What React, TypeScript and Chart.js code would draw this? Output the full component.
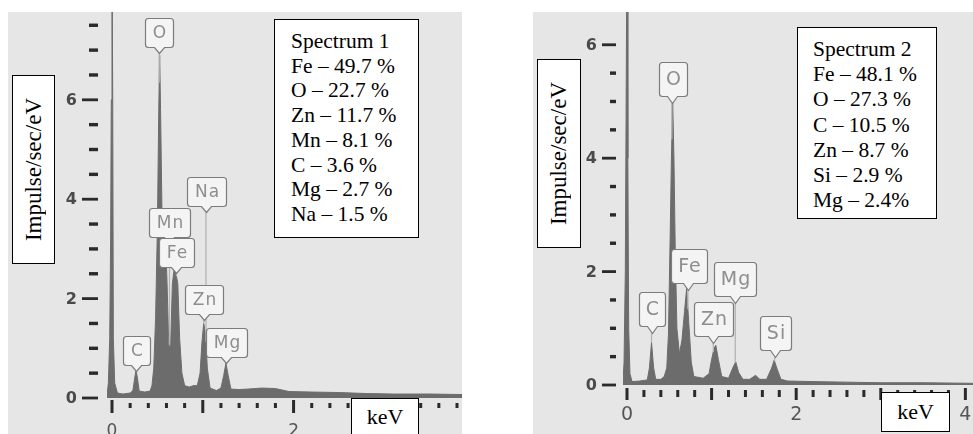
import { useEffect, useRef } from 'react';
import { Chart, registerables } from 'chart.js';

Chart.register(...registerables);

// ---------- Spectrum 1 (left) ----------
const s1Energy = [
  -0.055, -0.04, -0.025, -0.015, -0.008, 0.0, 0.008, 0.015, 0.03, 0.06, 0.12, 0.2, 0.23, 0.25, 0.265, 0.28,
  0.3, 0.36, 0.42, 0.44, 0.46, 0.48, 0.5, 0.515, 0.525, 0.535, 0.55, 0.57, 0.59, 0.605, 0.625, 0.645,
  0.665, 0.685, 0.705, 0.725, 0.745, 0.77, 0.8, 0.85, 0.9, 0.94, 0.97, 0.99, 1.01, 1.03, 1.05, 1.08,
  1.15, 1.2, 1.23, 1.255, 1.28, 1.31, 1.4, 1.5, 1.65, 1.8, 1.95, 2.2, 2.5, 2.8, 3.1, 3.5, 3.855,
];
const s1Counts = [
  0.05, 0.3, 1.2, 3.2, 6.0, 9.0, 6.0, 1.2, 0.3, 0.1, 0.08, 0.1, 0.15, 0.4, 0.56, 0.4,
  0.14, 0.12, 0.14, 0.25, 0.6, 1.6, 3.4, 5.8, 6.9, 5.8, 3.8, 3.4, 3.2, 2.4, 1.1, 1.0,
  2.3, 2.6, 2.5, 2.3, 1.2, 0.5, 0.25, 0.22, 0.25, 0.25, 0.5, 1.1, 1.5, 1.3, 0.6, 0.2,
  0.15, 0.2, 0.45, 0.7, 0.45, 0.18, 0.17, 0.18, 0.2, 0.19, 0.13, 0.12, 0.11, 0.09, 0.08, 0.08, 0.07,
];
const s1PeakElements = ['C', 'O', 'Mn', 'Fe', 'Na', 'Zn', 'Mg'];
const s1PeakEnergy = [0.264, 0.52, 0.633, 0.71, 1.035, 1.01, 1.255];
const s1PeakLabelLevel = [0.54, 6.94, 3.12, 2.52, 3.74, 1.57, 0.7];
const s1YTickLabels = [0, 2, 4, 6];
const s1XTickLabels = [0, 2];
const s1Title = 'Spectrum 1';
const s1Composition = ['Fe – 49.7 %', 'O – 22.7 %', 'Zn – 11.7 %', 'Mn – 8.1 %', 'C – 3.6 %', 'Mg – 2.7 %', 'Na – 1.5 %'];

// ---------- Spectrum 2 (right) ----------
const s2Energy = [
  -0.047, -0.035, -0.02, -0.01, 0.0, 0.01, 0.02, 0.035, 0.06, 0.15, 0.24, 0.265, 0.29, 0.315, 0.34, 0.4,
  0.44, 0.47, 0.49, 0.51, 0.525, 0.54, 0.555, 0.57, 0.59, 0.62, 0.65, 0.68, 0.705, 0.73, 0.76, 0.79,
  0.9, 0.97, 1.0, 1.03, 1.05, 1.08, 1.12, 1.2, 1.25, 1.285, 1.32, 1.37, 1.45, 1.52, 1.57, 1.65,
  1.71, 1.74, 1.77, 1.82, 1.9, 2.2, 2.6, 3.0, 3.5, 4.09,
];
const s2Counts = [
  0.05, 0.4, 2.0, 5.0, 8.0, 4.0, 1.0, 0.2, 0.06, 0.07, 0.09, 0.3, 0.75, 0.3, 0.1, 0.1,
  0.15, 0.3, 0.9, 2.6, 4.0, 5.0, 4.0, 2.4, 1.0, 0.55, 0.8, 1.3, 1.7, 1.1, 0.4, 0.15,
  0.12, 0.2, 0.45, 0.65, 0.7, 0.45, 0.15, 0.12, 0.3, 0.41, 0.22, 0.1, 0.1, 0.17, 0.1, 0.1,
  0.3, 0.44, 0.3, 0.1, 0.07, 0.06, 0.05, 0.04, 0.04, 0.03,
];
const s2PeakElements = ['C', 'O', 'Fe', 'Zn', 'Mg', 'Si'];
const s2PeakEnergy = [0.29, 0.53, 0.72, 1.02, 1.28, 1.745];
const s2PeakLabelLevel = [0.92, 4.97, 1.68, 0.74, 1.45, 0.49];
const s2YTickLabels = [0, 2, 4, 6];
const s2XTickLabels = [0, 2, 4];
const s2Title = 'Spectrum 2';
const s2Composition = ['Fe – 48.1 %', 'O – 27.3 %', 'C – 10.5 %', 'Zn – 8.7 %', 'Si – 2.9 %', 'Mg – 2.4%'];

const yAxisTitle = 'Impulse/sec/eV';
const xAxisTitle = 'keV';

type Decor = {
  energy: number[];
  counts: number[];
  elements: string[];
  peakEnergy: number[];
  peakLevel: number[];
  yLabels: number[];
  xLabels: number[];
  yStep: number;
  yTickMax: number;
  xStep: number;
  xTickMax: number;
  yMajor: [number, number];
  yMinor: [number, number];
  xMajor: [number, number];
  xMinor: [number, number];
  yLabelOffset: number;
  xLabelOffset: number;
  yFont: string;
  xFont: string;
  labelFont: string;
  boxH: number;
  notchH: number;
  pad: number;
};

function interp(xs: number[], ys: number[], v: number) {
  for (let i = 0; i < xs.length - 1; i++) {
    if (v >= xs[i] && v <= xs[i + 1]) {
      const t = (v - xs[i]) / (xs[i + 1] - xs[i]);
      return ys[i] + t * (ys[i + 1] - ys[i]);
    }
  }
  return 0;
}

const decorPlugin = {
  id: 'spectrumDecor',
  beforeDatasetsDraw(chart: any, _a: any, o: Decor) {
    const { ctx, chartArea, scales } = chart;
    const x = scales.x;
    const y = scales.y;
    ctx.save();
    ctx.fillStyle = '#2a2a2a';
    for (let k = 0; k * o.yStep <= o.yTickMax + 1e-9; k++) {
      const v = k * o.yStep;
      const major = o.yLabels.some((l) => Math.abs(l - v) < 1e-6);
      const [a, b] = major ? o.yMajor : o.yMinor;
      const py = y.getPixelForValue(v);
      const h = major ? 2.8 : 3.4;
      ctx.fillRect(chartArea.left + a, py - h / 2, b - a, h);
    }
    for (let k = 0; k * o.xStep <= o.xTickMax + 1e-9; k++) {
      const v = k * o.xStep;
      const major = Math.abs(v - Math.round(v)) < 1e-6;
      const [a, b] = major ? o.xMajor : o.xMinor;
      const px = x.getPixelForValue(v);
      ctx.fillRect(px - 1.5, chartArea.bottom + a, 3, b - a);
    }
    ctx.fillStyle = '#4a4a4a';
    ctx.font = o.yFont;
    ctx.textAlign = 'right';
    ctx.textBaseline = 'middle';
    o.yLabels.forEach((l) => {
      ctx.fillText(String(l), chartArea.left + o.yLabelOffset, y.getPixelForValue(l) + 1);
    });
    ctx.fillStyle = '#555';
    ctx.font = o.xFont;
    ctx.textAlign = 'center';
    o.xLabels.forEach((l) => {
      ctx.fillText(String(l), x.getPixelForValue(l), chartArea.bottom + o.xLabelOffset);
    });
    ctx.restore();
  },
  afterDatasetsDraw(chart: any, _a: any, o: Decor) {
    const { ctx, scales } = chart;
    const x = scales.x;
    const y = scales.y;
    ctx.save();
    ctx.strokeStyle = '#b4b4b4';
    ctx.lineWidth = 1.3;
    o.elements.forEach((_el, i) => {
      const px = x.getPixelForValue(o.peakEnergy[i]);
      const tip = y.getPixelForValue(o.peakLevel[i]);
      const end = y.getPixelForValue(interp(o.energy, o.counts, o.peakEnergy[i]));
      if (end > tip) {
        ctx.beginPath();
        ctx.moveTo(px, tip);
        ctx.lineTo(px, end);
        ctx.stroke();
      }
    });
    ctx.font = o.labelFont;
    (ctx as any).letterSpacing = '1px';
    o.elements.forEach((el, i) => {
      const tw = ctx.measureText(el).width;
      const bw = tw + 2 * o.pad;
      const tx = Math.round(x.getPixelForValue(o.peakEnergy[i])) + 0.5;
      const ty = Math.round(y.getPixelForValue(o.peakLevel[i])) + 0.5;
      const bottom = ty - o.notchH;
      const top = bottom - o.boxH;
      const left = Math.round(tx - bw / 2) + 0.5;
      const right = left + Math.round(bw);
      const r = 3;
      const nw = 5;
      ctx.beginPath();
      ctx.moveTo(left + r, top);
      ctx.lineTo(right - r, top);
      ctx.quadraticCurveTo(right, top, right, top + r);
      ctx.lineTo(right, bottom - r);
      ctx.quadraticCurveTo(right, bottom, right - r, bottom);
      ctx.lineTo(tx + nw, bottom);
      ctx.lineTo(tx, ty);
      ctx.lineTo(tx - nw, bottom);
      ctx.lineTo(left + r, bottom);
      ctx.quadraticCurveTo(left, bottom, left, bottom - r);
      ctx.lineTo(left, top + r);
      ctx.quadraticCurveTo(left, top, left + r, top);
      ctx.closePath();
      ctx.fillStyle = '#f4f4f4';
      ctx.fill();
      ctx.strokeStyle = '#7c7c7c';
      ctx.lineWidth = 1.2;
      ctx.stroke();
      ctx.fillStyle = '#8e8e8e';
      ctx.textAlign = 'center';
      ctx.textBaseline = 'middle';
      ctx.fillText(el, (left + right) / 2 + 0.5, (top + bottom) / 2 + 1);
    });
    ctx.restore();
  },
};

function makeConfig(
  energy: number[],
  counts: number[],
  xMin: number,
  xMax: number,
  yMax: number,
  padLeft: number,
  padBottom: number,
  decor: Decor
): any {
  return {
    type: 'line',
    data: {
      datasets: [
        {
          data: energy.map((e, i) => ({ x: e, y: counts[i] })),
          borderColor: '#6c6c6c',
          backgroundColor: '#6c6c6c',
          borderWidth: 1,
          pointRadius: 0,
          fill: 'origin',
          tension: 0,
        },
      ],
    },
    options: {
      animation: false,
      responsive: false,
      devicePixelRatio: 1,
      layout: { padding: { left: padLeft, right: 0, top: 0, bottom: padBottom } },
      scales: {
        x: { type: 'linear', display: false, min: xMin, max: xMax },
        y: { type: 'linear', display: false, min: 0, max: yMax },
      },
      plugins: {
        legend: { display: false },
        tooltip: { enabled: false },
        spectrumDecor: decor,
      },
    },
    plugins: [decorPlugin],
  };
}

const serif = "'Liberation Serif', 'Times New Roman', serif";

function InfoBox(props: { left: number; top: number; width: number; height: number; padTop: number; padLeft: number; lh: number; title: string; lines: string[] }) {
  return (
    <div
      style={{
        position: 'absolute',
        left: props.left,
        top: props.top,
        width: props.width,
        height: props.height,
        boxSizing: 'border-box',
        border: '1px solid #000',
        background: '#fff',
        paddingTop: props.padTop,
        paddingLeft: props.padLeft,
        fontFamily: serif,
        fontSize: 21.5,
        lineHeight: `${props.lh}px`,
        color: '#000',
        whiteSpace: 'nowrap',
      }}
    >
      <div>{props.title}</div>
      {props.lines.map((l) => (
        <div key={l}>{l}</div>
      ))}
    </div>
  );
}

function YTitle(props: { left: number; top: number; width: number; height: number }) {
  return (
    <div
      style={{
        position: 'absolute',
        left: props.left,
        top: props.top,
        width: props.width,
        height: props.height,
        boxSizing: 'border-box',
        border: '1px solid #000',
        background: '#fff',
        display: 'flex',
        alignItems: 'center',
        justifyContent: 'center',
        fontFamily: serif,
        fontSize: 23,
        color: '#000',
      }}
    >
      <span style={{ writingMode: 'vertical-rl', transform: 'rotate(180deg)', whiteSpace: 'nowrap' }}>{yAxisTitle}</span>
    </div>
  );
}

function XTitle(props: { left: number; top: number; width: number; height: number; padTop: number }) {
  return (
    <div
      style={{
        position: 'absolute',
        left: props.left,
        top: props.top,
        width: props.width,
        height: props.height,
        boxSizing: 'border-box',
        border: '1px solid #000',
        background: '#fff',
        paddingTop: props.padTop,
        textAlign: 'center',
        fontFamily: serif,
        fontSize: 22,
        lineHeight: '22px',
        color: '#000',
      }}
    >
      {xAxisTitle}
    </div>
  );
}

export default function App() {
  const leftRef = useRef<HTMLCanvasElement>(null);
  const rightRef = useRef<HTMLCanvasElement>(null);

  useEffect(() => {
    const d1: Decor = {
      energy: s1Energy,
      counts: s1Counts,
      elements: s1PeakElements,
      peakEnergy: s1PeakEnergy,
      peakLevel: s1PeakLabelLevel,
      yLabels: s1YTickLabels,
      xLabels: s1XTickLabels,
      yStep: 0.5,
      yTickMax: 7.5,
      xStep: 0.2,
      xTickMax: 3.8,
      yMajor: [-25, -9],
      yMinor: [-18, -9],
      xMajor: [2, 15],
      xMinor: [5, 10],
      yLabelOffset: -30,
      xLabelOffset: 34,
      yFont: "bold 16px 'DejaVu Sans'",
      xFont: "17px 'DejaVu Sans'",
      labelFont: "17px 'DejaVu Sans'",
      boxH: 29,
      notchH: 6,
      pad: 7,
    };
    const d2: Decor = {
      energy: s2Energy,
      counts: s2Counts,
      elements: s2PeakElements,
      peakEnergy: s2PeakEnergy,
      peakLevel: s2PeakLabelLevel,
      yLabels: s2YTickLabels,
      xLabels: s2XTickLabels,
      yStep: 0.5,
      yTickMax: 6,
      xStep: 0.2,
      xTickMax: 4.0,
      yMajor: [-21, -7],
      yMinor: [-13, -7],
      xMajor: [3, 15],
      xMinor: [5, 12],
      yLabelOffset: -26,
      xLabelOffset: 30,
      yFont: "bold 16px 'DejaVu Sans'",
      xFont: "19px 'DejaVu Sans'",
      labelFont: "19px 'DejaVu Sans'",
      boxH: 34,
      notchH: 7,
      pad: 6,
    };
    const c1 = new Chart(leftRef.current!, makeConfig(s1Energy, s1Counts, -0.055, 3.855, 7.767, 99, 54, d1));
    const c2 = new Chart(rightRef.current!, makeConfig(s2Energy, s2Counts, -0.0473, 4.09, 6.578, 90, 49, d2));
    return () => {
      c1.destroy();
      c2.destroy();
    };
  }, []);

  return (
    <div style={{ position: 'fixed', left: 0, top: 0, width: 973, height: 434, overflow: 'hidden', background: '#fff' }}>
      <div style={{ position: 'absolute', left: 8, top: 12, width: 454, height: 422, background: '#e6e6e6' }} />
      <div style={{ position: 'absolute', left: 533, top: 12, width: 440, height: 422, background: '#e6e6e6' }} />
      <canvas ref={leftRef} width={454} height={440} style={{ position: 'absolute', left: 8, top: 12, width: 454, height: 440 }} />
      <canvas ref={rightRef} width={440} height={422} style={{ position: 'absolute', left: 533, top: 12, width: 440, height: 422 }} />
      <InfoBox left={274} top={19} width={145} height={219} padTop={9} padLeft={16} lh={24.7} title={s1Title} lines={s1Composition} />
      <InfoBox left={797} top={27} width={140} height={192} padTop={9} padLeft={15} lh={25.2} title={s2Title} lines={s2Composition} />
      <YTitle left={12} top={75} width={43} height={189} />
      <YTitle left={537} top={59} width={44} height={189} />
      <XTitle left={351} top={398} width={68} height={46} padTop={7} />
      <XTitle left={881} top={392} width={69} height={40} padTop={8} />
    </div>
  );
}
